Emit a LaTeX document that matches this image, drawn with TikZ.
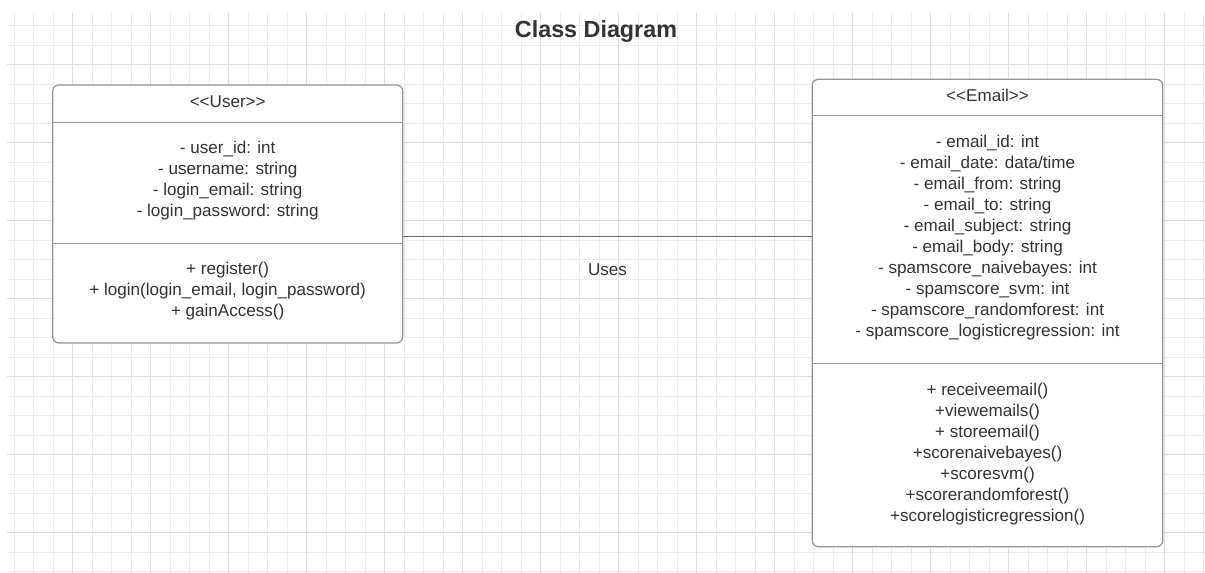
\documentclass[tikz,border=0pt]{standalone}
\usepackage{fontspec}
\setmainfont{Liberation Sans}
\definecolor{gridminor}{RGB}{236,236,236}
\definecolor{gridmajor}{RGB}{222,222,222}
\definecolor{boxline}{RGB}{150,150,150}
\definecolor{ink}{RGB}{51,51,51}
\begin{document}
\begin{tikzpicture}[x=0.75pt, y=-0.75pt, font=\fontsize{12.8}{15.75}\selectfont, text=ink, line join=round]
	\useasboundingbox[fill=white] (0,0) rectangle (1205,573);
	\foreach \i in {0,...,61} \draw[gridminor, line width=0.75pt] ({14+19.5*\i},13)--({14+19.5*\i},573);
	\foreach \j in {0,...,28} \draw[gridminor, line width=0.75pt] (7,{25.7+19.5*\j})--(1205,{25.7+19.5*\j});
	\foreach \i in {3,7,...,59} \draw[gridmajor, line width=0.75pt] ({14+19.5*\i},13)--({14+19.5*\i},573);
	\foreach \j in {2,6,...,26} \draw[gridmajor, line width=0.75pt] (7,{25.7+19.5*\j})--(1205,{25.7+19.5*\j});
	\tikzset{classbox/.style={draw=boxline, line width=0.9pt, fill=white, rounded corners=4.5pt, inner sep=0pt},
		divider/.style={draw=boxline, line width=0.9pt},
		link/.style={draw=black!60, line width=0.75pt},
		members/.style={align=center, inner sep=0pt}}
	\node[font=\fontsize{17.5}{21}\selectfont\bfseries] (title) at (596,32) {Class Diagram};
	\node[classbox, minimum width=262.5pt, minimum height=193.5pt] (user) at (227.7,214) {};
	\node[classbox, minimum width=262.8pt, minimum height=350.5pt] (email) at (987.5,313) {};
	\draw[divider] (user.west |- 0,122.3) -- (user.east |- 0,122.3) (user.west |- 0,243.3) -- (user.east |- 0,243.3);
	\draw[divider] (email.west |- 0,115.7) -- (email.east |- 0,115.7) (email.west |- 0,363.3) -- (email.east |- 0,363.3);
	\node (user-head) at (227.7,101.7) {<{}<User>{}>};
	\node[members] (user-attr) at (227.7,180.3) {- user\_id: int\\- username: string\\- login\_email: string\\- login\_password: string};
	\node[members] (user-ops) at (227.7,290.8) {+ register()\\+ login(login\_email, login\_password)\\+ gainAccess()};
	\node (email-head) at (987.5,95) {<{}<Email>{}>};
	\node[members] (email-attr) at (987.5,237.5) {- email\_id: int\\- email\_date: data/time\\- email\_from: string\\- email\_to: string\\- email\_subject: string\\- email\_body: string\\- spamscore\_naivebayes: int\\- spamscore\_svm: int\\- spamscore\_randomforest: int\\- spamscore\_logisticregression: int};
	\node[members] (email-ops) at (987.5,453.8) {+ receiveemail()\\+viewemails()\\+ storeemail()\\+scorenaivebayes()\\+scoresvm()\\+scorerandomforest()\\+scorelogisticregression()};
	\draw[link] (user.east |- 0,237) -- (email.west |- 0,237) node[pos=0.5, yshift=-24.75pt] (uses) {Uses};
\end{tikzpicture}
\end{document}
